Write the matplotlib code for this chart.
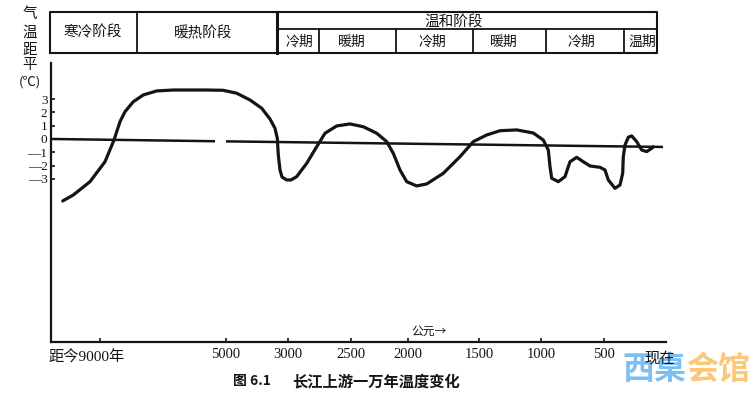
import matplotlib
matplotlib.use("Agg")
import matplotlib.pyplot as plt
from matplotlib.transforms import blended_transform_factory

CJK = ['Noto Sans CJK SC', 'DejaVu Sans']
SERIF = ['Liberation Serif', 'Noto Sans CJK SC']
INK = '#141414'

# ---------------- data ----------------
# schematic (non-linear) time axis, in axis position units
tick_pos = [49, 175, 237, 300, 357, 428, 490, 553]
tick_labels = ['', '5000', '3000', '2500', '2000', '1500', '1000', '500']

# temperature anomaly curve (°C)
curve_x = [11.7, 22.3, 39, 54, 63, 69, 74, 82.3, 92.3, 105.7, 122.3, 155.7, 172,
           185.7, 199, 210.7, 219, 224, 226.3, 227.3, 229, 231, 235.7, 240, 245.7,
           255.7, 265.7, 274, 285.7, 299, 312.3, 325.7, 335.7, 342.3, 349, 355.7,
           365.7, 375.7, 392.3, 409, 422.3, 435.7, 449, 465.7, 482.3, 492.3, 497.3,
           499, 500.7, 507.3, 514, 519, 525.7, 532.3, 539, 549, 554, 557.3, 564,
           569, 571.7, 572.3, 574, 577.3, 580.7, 585.7, 590.7, 595.7, 600.7, 602.3]
curve_t = [-4.66, -4.21, -3.21, -1.71, -0.08, 1.30, 2.05, 2.80, 3.31, 3.61, 3.68, 3.68,
           3.66, 3.44, 2.93, 2.31, 1.50, 0.80, 0.05, -1.20, -2.33, -2.86, -3.08, -3.08,
           -2.83, -1.83, -0.58, 0.43, 0.98, 1.13, 0.92, 0.43, -0.20, -1.08, -2.33,
           -3.21, -3.53, -3.38, -2.58, -1.33, -0.20, 0.30, 0.62, 0.68, 0.45, -0.08,
           -0.83, -2.08, -2.95, -3.21, -2.83, -1.71, -1.38, -1.71, -2.03, -2.13,
           -2.33, -3.08, -3.71, -3.46, -2.58, -1.33, -0.45, 0.13, 0.23, -0.20, -0.83,
           -0.95, -0.70, -0.58]

# hand-drawn zero (baseline) line, with its small gap
base1_x = [0, 164]
base1_t = [0.0, -0.17]
base2_x = [175, 612]
base2_t = [-0.18, -0.60]

y_ticks = [3, 2, 1, 0, -1, -2, -3]
y_labels = ['3', '2', '1', '0', '—1', '—2', '—3']

stages = ['寒冷阶段', '暖热阶段', '温和阶段']
stage_edges = [-1, 86, 226, 606]
periods = ['冷期', '暖期', '冷期', '暖期', '冷期', '温期']
period_edges = [226, 268, 345, 422, 495, 573, 606]
period_label_x = [248, 301, 381, 453, 530, 591]

# ---------------- figure ----------------
W, H = 754, 393
fig = plt.figure(figsize=(W / 100, H / 100), dpi=100)
fig.patch.set_facecolor('white')

ax = fig.add_axes([51 / W, 51 / H, 615 / W, 279 / H])
ax.set_xlim(0, 615)
ax.set_ylim(-15.26, 5.71)
for s in ['top', 'right']:
    ax.spines[s].set_visible(False)
for s in ['left', 'bottom']:
    ax.spines[s].set_linewidth(1.6)
    ax.spines[s].set_color(INK)

ax.plot(base1_x, base1_t, color=INK, lw=1.8, solid_capstyle='butt')
ax.plot(base2_x, base2_t, color=INK, lw=1.8, solid_capstyle='butt')
ax.plot(curve_x, curve_t, color=INK, lw=2.3, solid_joinstyle='round',
        solid_capstyle='round')

ax.set_yticks(y_ticks)
ax.set_yticklabels(y_labels, family=SERIF, fontsize=9.5)
ax.set_xticks(tick_pos)
ax.set_xticklabels(tick_labels, family=SERIF, fontsize=10.5)
ax.tick_params(axis='y', direction='in', length=3, width=1.2, pad=2.5, colors=INK)
ax.tick_params(axis='x', direction='in', length=3, width=1.2, pad=4, colors=INK)

tr = blended_transform_factory(ax.transData, ax.transAxes)
ax.text(36, -0.057, '距今9000年', transform=tr, ha='center', va='center',
        family=['Liberation Serif', 'Noto Sans CJK SC'], fontsize=11, color=INK)
ax.text(378, 0.039, '公元→', transform=tr, ha='center', va='center',
        family=CJK, fontsize=8.5, color=INK)

# y label stacked vertically
for ch, ypx, fs in zip(['气', '温', '距', '平', '(℃)'], [14, 33, 50, 65, 82],
                       [10.5, 10.5, 10.5, 10.5, 9.5]):
    fig.text(30 / W, 1 - ypx / H, ch, ha='center', va='center', family=CJK,
             fontsize=fs, color=INK)

# ---------------- header table ----------------
hax = fig.add_axes([51 / W, (H - 52.5) / H, 615 / W, 40 / H])
hax.set_xlim(0, 615)
hax.set_ylim(0, 1)
hax.axis('off')
x0, x1 = stage_edges[0], stage_edges[-1]
hax.plot([x0, x1, x1, x0, x0], [0, 0, 1, 1, 0], color=INK, lw=1.5, clip_on=False)
hax.plot([stage_edges[1]] * 2, [0, 1], color=INK, lw=1.3, clip_on=False)
hax.plot([stage_edges[2]] * 2, [0, 1], color=INK, lw=2.2, clip_on=False)
mid = 0.575
hax.plot([stage_edges[2], x1], [mid, mid], color=INK, lw=1.3, clip_on=False)
for e in period_edges[1:-1]:
    hax.plot([e, e], [0, mid], color=INK, lw=1.3, clip_on=False)

stage_x = [42, 152.5, 403]
stage_y = [0.51, 0.49, 0.78]
for name, sx, sy in zip(stages, stage_x, stage_y):
    hax.text(sx, sy, name, ha='center', va='center', family=CJK, fontsize=10.5,
             color=INK)
for name, px in zip(periods, period_label_x):
    hax.text(px, 0.26, name, ha='center', va='center', family=CJK, fontsize=10,
             color=INK)

# ---------------- caption & watermark ----------------
fig.text(233 / W, 1 - 381 / H, '图 6.1', ha='left', va='center', family=CJK,
         fontsize=10, fontweight='bold', color=INK)
fig.text(292 / W, 1 - 381 / H, '长江上游一万年温度变化', ha='left', va='center',
         family=CJK, fontsize=11, fontweight='bold', color=INK)

fig.text(622 / W, 1 - 370 / H, '西桌', ha='left', va='center', family=CJK,
         fontsize=23, fontweight='heavy', color='#7cc0f3', zorder=1)
fig.text(686 / W, 1 - 370 / H, '会馆', ha='left', va='center', family=CJK,
         fontsize=23, fontweight='heavy', color='#fbc878', zorder=1)
fig.text(660 / W, 1 - 358 / H, '现在', ha='center', va='center',
         family=CJK, fontsize=11, color=INK, zorder=5)

fig.savefig('out.png', dpi=100)
